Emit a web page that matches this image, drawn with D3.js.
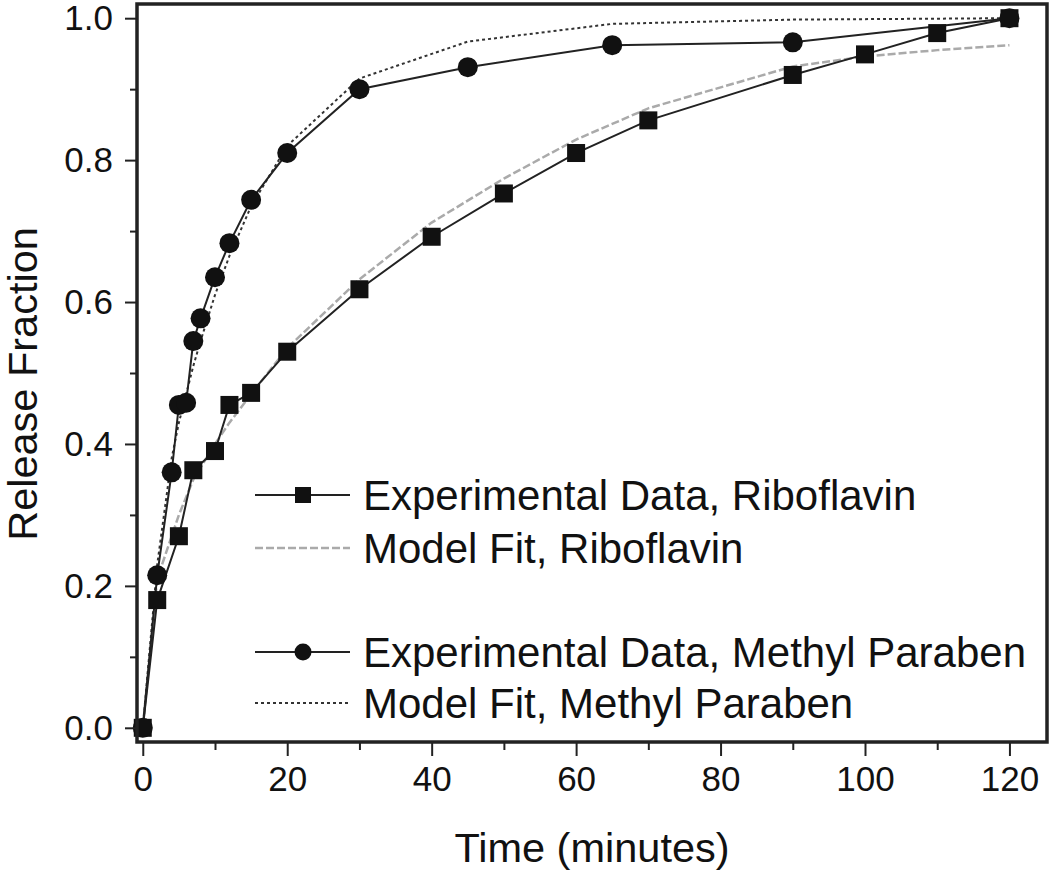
<!DOCTYPE html>
<html>
<head>
<meta charset="utf-8">
<script src="https://cdn.jsdelivr.net/npm/d3@7"></script>
<style>
  html, body { margin: 0; padding: 0; background: #fff; }
  svg text { font-family: "Liberation Sans", Arial, sans-serif; fill: #111; }
</style>
</head>
<body>
<div id="chart"></div>
<script>
// Riboflavin: experimental points and model fit
const riboTime = [0, 2, 5, 7, 10, 12, 15, 20, 30, 40, 50, 60, 70, 90, 100, 110, 120];
const riboExp = [0, 0.18, 0.27, 0.363, 0.39, 0.455, 0.472, 0.53, 0.618, 0.692, 0.753, 0.81, 0.856, 0.92, 0.949, 0.979, 1.0];
const riboFit = [0, 0.21, 0.30, 0.35, 0.40, 0.43, 0.47, 0.535, 0.632, 0.712, 0.774, 0.829, 0.873, 0.932, 0.946, 0.955, 0.962];

// Methyl paraben: experimental points and model fit
const mpTime = [0, 2, 4, 5, 6, 7, 8, 10, 12, 15, 20, 30, 45, 65, 90, 120];
const mpExp = [0, 0.215, 0.36, 0.455, 0.458, 0.545, 0.577, 0.635, 0.683, 0.744, 0.81, 0.90, 0.931, 0.962, 0.966, 1.0];
const mpFit = [0, 0.23, 0.38, 0.43, 0.47, 0.51, 0.545, 0.61, 0.665, 0.735, 0.82, 0.915, 0.967, 0.992, 0.998, 1.0];

const xMajor = [0, 20, 40, 60, 80, 100, 120];
const xMinor = [10, 30, 50, 70, 90, 110];
const yMajor = [0, 0.2, 0.4, 0.6, 0.8, 1.0];
const yMinor = [0.1, 0.3, 0.5, 0.7, 0.9];

const legendItems = [
  { label: "Experimental Data, Riboflavin", kind: "expSquare" },
  { label: "Model Fit, Riboflavin", kind: "fitRibo" },
  { label: "Experimental Data, Methyl Paraben", kind: "expCircle" },
  { label: "Model Fit, Methyl Paraben", kind: "fitMp" },
];
const legendRows = [495, 548, 652, 703];

const W = 1050, H = 870;
const plot = { left: 137, right: 1047, top: 4, bottom: 742 };

const svg = d3.select("#chart").append("svg").attr("width", W).attr("height", H);

const x = d3.scaleLinear().domain([-0.8, 125.2]).range([plot.left, plot.right]);
const y = d3.scaleLinear().domain([-0.02, 1.02]).range([plot.bottom, plot.top]);

const styles = {
  fitRibo: { stroke: "#aaa", width: 2.5, dash: "8,3" },
  fitMp: { stroke: "#333", width: 2, dash: "3,3" },
  exp: { stroke: "#222", width: 2, dash: null },
};

const line = d3.line().x(d => x(d[0])).y(d => y(d[1]));
const zip = (a, b) => a.map((v, i) => [v, b[i]]);

function drawLine(pts, st) {
  svg.append("path")
    .datum(pts)
    .attr("d", line)
    .attr("fill", "none")
    .attr("stroke", st.stroke)
    .attr("stroke-width", st.width)
    .attr("stroke-dasharray", st.dash);
}

// Fits first, experimental on top
drawLine(zip(riboTime, riboFit), styles.fitRibo);
drawLine(zip(mpTime, mpFit), styles.fitMp);
drawLine(zip(riboTime, riboExp), styles.exp);
drawLine(zip(mpTime, mpExp), styles.exp);

const sq = 18;
svg.append("g").selectAll("rect")
  .data(zip(riboTime, riboExp)).join("rect")
  .attr("x", d => x(d[0]) - sq / 2)
  .attr("y", d => y(d[1]) - sq / 2)
  .attr("width", sq).attr("height", sq)
  .attr("fill", "#111");

svg.append("g").selectAll("circle")
  .data(zip(mpTime, mpExp)).join("circle")
  .attr("cx", d => x(d[0]))
  .attr("cy", d => y(d[1]))
  .attr("r", 10)
  .attr("fill", "#111");

// Axes
const xAxis = svg.append("g").attr("transform", `translate(0,${plot.bottom})`)
  .call(d3.axisBottom(x).tickValues(xMajor).tickSize(14).tickPadding(10).tickFormat(d3.format("d")));
svg.append("g").attr("transform", `translate(0,${plot.bottom})`)
  .call(d3.axisBottom(x).tickValues(xMinor).tickSize(8).tickFormat(""));

const yAxis = svg.append("g").attr("transform", `translate(${plot.left},0)`)
  .call(d3.axisLeft(y).tickValues(yMajor).tickSize(12).tickPadding(12).tickFormat(d3.format(".1f")));
svg.append("g").attr("transform", `translate(${plot.left},0)`)
  .call(d3.axisLeft(y).tickValues(yMinor).tickSize(7).tickFormat(""));

svg.selectAll(".tick line").attr("stroke", "#222").attr("stroke-width", 2);
svg.selectAll(".domain").remove();
xAxis.selectAll("text").attr("font-size", 35).attr("fill", "#111");
yAxis.selectAll("text").attr("font-size", 35).attr("fill", "#111");

// Frame
svg.append("rect")
  .attr("x", plot.left).attr("y", plot.top)
  .attr("width", plot.right - plot.left).attr("height", plot.bottom - plot.top)
  .attr("fill", "none").attr("stroke", "#222").attr("stroke-width", 3.5);

// Axis titles
svg.append("text")
  .attr("x", (plot.left + plot.right) / 2).attr("y", 862)
  .attr("text-anchor", "middle").attr("font-size", 41.5)
  .text("Time (minutes)");
svg.append("text")
  .attr("transform", "translate(37,384) rotate(-90)")
  .attr("text-anchor", "middle").attr("font-size", 41.5)
  .text("Release Fraction");

// Legend
const lg = svg.append("g");
legendItems.forEach((item, i) => {
  const ly = legendRows[i];
  const st = item.kind === "fitRibo" ? styles.fitRibo : item.kind === "fitMp" ? styles.fitMp : styles.exp;
  lg.append("line")
    .attr("x1", 255).attr("x2", 350).attr("y1", ly).attr("y2", ly)
    .attr("stroke", st.stroke).attr("stroke-width", st.width)
    .attr("stroke-dasharray", st.dash);
  if (item.kind === "expSquare") {
    lg.append("rect").attr("x", 303 - 8).attr("y", ly - 8).attr("width", 16).attr("height", 16).attr("fill", "#111");
  } else if (item.kind === "expCircle") {
    lg.append("circle").attr("cx", 303).attr("cy", ly).attr("r", 8.5).attr("fill", "#111");
  }
  lg.append("text")
    .attr("x", 363).attr("y", ly).attr("dy", "0.36em")
    .attr("font-size", 42)
    .text(item.label);
});
</script>
</body>
</html>
